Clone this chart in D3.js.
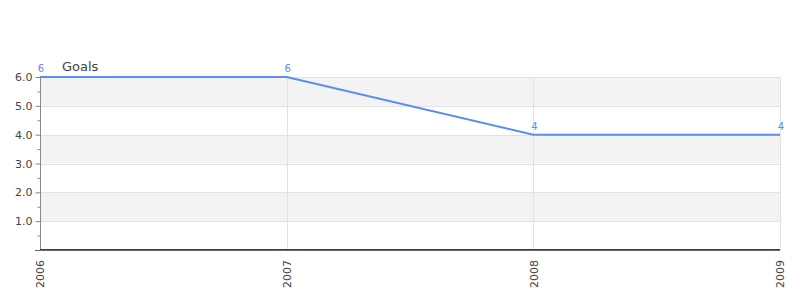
<!DOCTYPE html>
<html>
<head>
<meta charset="utf-8">
<script src="https://cdn.jsdelivr.net/npm/d3@7"></script>
<style>
  body { margin: 0; background: #fff; }
  svg { display: block; font-family: "DejaVu Sans", sans-serif; }
</style>
</head>
<body>
<div class="canvas"></div>
<script>
const years = [2006, 2007, 2008, 2009];
const goals = [6, 6, 4, 4];
const yTicks = [1, 2, 3, 4, 5, 6];
const seriesName = 'Goals';

let width = 800, height = 300;
let padL = 40, padR = 780, padT = 77, padB = 250;

const svg = d3.select('.canvas')
    .append('svg')
    .attr('width', width)
    .attr('height', height);

const x = d3.scaleLinear()
    .domain([d3.min(years), d3.max(years)])
    .range([padL, padR]);

const y = d3.scaleLinear()
    .domain([0, 6])
    .range([padB, padT]);

// alternating bands
svg.append('g')
    .selectAll('rect')
    .data(d3.range(0, 6))
    .enter()
    .append('rect')
    .attr('x', padL)
    .attr('width', padR - padL)
    .attr('y', d => y(d + 1))
    .attr('height', d => y(d) - y(d + 1))
    .attr('fill', d => d % 2 === 1 ? '#f3f3f3' : '#fff');

// horizontal grid
svg.append('g')
    .selectAll('line')
    .data(yTicks)
    .enter()
    .append('line')
    .attr('x1', padL).attr('x2', padR)
    .attr('y1', d => Math.round(y(d)) + 0.5)
    .attr('y2', d => Math.round(y(d)) + 0.5)
    .attr('stroke', '#e2e2e2');

// vertical grid
svg.append('g')
    .selectAll('line')
    .data(years.slice(1))
    .enter()
    .append('line')
    .attr('y1', padT).attr('y2', padB)
    .attr('x1', d => Math.round(x(d)) + 0.5)
    .attr('x2', d => Math.round(x(d)) + 0.5)
    .attr('stroke', '#e2e2e2');

// y axis
const yAxis = d3.axisLeft(y)
    .tickValues(d3.range(0.5, 6.01, 0.5))
    .tickSize(5)
    .tickFormat(d => (d % 1 === 0 && d > 0) ? d3.format('.1f')(d) : '');

svg.append('g')
    .attr('transform', `translate(${padL + 0.5},0)`)
    .call(yAxis)
    .call(g => g.select('.domain').attr('stroke', '#888').attr('d', `M0,${padT}V${padB}`))
    .call(g => g.selectAll('.tick line')
        .attr('stroke', '#888')
        .attr('x2', d => d % 1 === 0 ? -5 : -3))
    .call(g => g.selectAll('.tick text')
        .attr('x', -8)
        .attr('fill', '#444')
        .style('font-size', '11px')
        .style('font-family', '"DejaVu Sans", sans-serif'));

// x axis
const xAxis = d3.axisBottom(x)
    .tickValues(years)
    .tickSize(0)
    .tickFormat(d3.format('d'));

svg.append('g')
    .attr('transform', `translate(0,${padB})`)
    .call(xAxis)
    .call(g => g.select('.domain').remove())
    .call(g => g.selectAll('.tick text')
        .attr('transform', 'rotate(-90)')
        .attr('text-anchor', 'end')
        .attr('x', -10)
        .attr('y', 0)
        .attr('dy', '0.35em')
        .attr('fill', '#444')
        .style('font-size', '11px')
        .style('font-family', '"DejaVu Sans", sans-serif'));

// base lines
svg.append('line')
    .attr('x1', padL - 5).attr('x2', padR)
    .attr('y1', padB + 0.5).attr('y2', padB + 0.5)
    .attr('stroke', '#666');
svg.append('line')
    .attr('x1', padL).attr('x2', padR)
    .attr('y1', padB - 0.5).attr('y2', padB - 0.5)
    .attr('stroke', '#d00');

// line series
const line = d3.line()
    .x((d, i) => x(years[i]))
    .y(d => y(d));

svg.append('path')
    .datum(goals)
    .attr('fill', 'none')
    .attr('stroke', '#5b8def')
    .attr('stroke-width', 2)
    .attr('d', line);

// value labels
svg.append('g')
    .selectAll('text')
    .data(goals)
    .enter()
    .append('text')
    .attr('x', (d, i) => x(years[i]) + 1)
    .attr('y', d => y(d) - 5)
    .attr('text-anchor', 'middle')
    .attr('fill', '#5b8def')
    .style('font-size', '10px')
    .text(d => d);

// legend
svg.append('text')
    .attr('x', 62)
    .attr('y', 71)
    .attr('fill', '#444')
    .style('font-size', '13px')
    .text(seriesName);
</script>
</body>
</html>
